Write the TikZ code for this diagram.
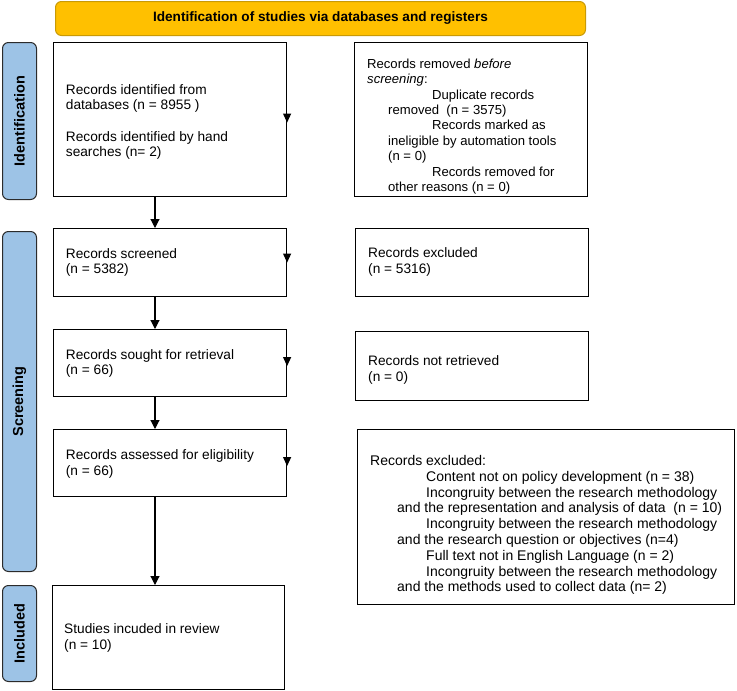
\documentclass[tikz,border=0pt]{standalone}
\usepackage{fontspec}
\setmainfont{Liberation Sans}
\usetikzlibrary{arrows.meta}
\definecolor{bannerfill}{HTML}{FFC000}
\definecolor{bannerdraw}{HTML}{C99A06}
\definecolor{phaseblue}{HTML}{9DC3E6}
\definecolor{phasedraw}{HTML}{2B2B2B}
\begin{document}
\begin{tikzpicture}[x=1pt,y=-1pt,
  box/.style={draw=black,line width=1.1pt,fill=white,inner sep=0pt,anchor=north west},
  phase/.style={draw=phasedraw,line width=1pt,fill=phaseblue,rounded corners=6pt,inner sep=0pt,anchor=north west},
  phasetxt/.style={rotate=90,font=\bfseries\fontsize{14.5}{16}\selectfont,inner sep=0pt},
  arr/.style={line width=1.1pt,-{Triangle[length=9pt,width=9pt]}},
  marker/.style={line width=1.1pt,-{Triangle[length=9pt,width=8pt]}},
  txt/.style={font=\fontsize{13.7}{15.6}\selectfont,align=left,inner sep=0pt,anchor=west},
]
\useasboundingbox (0,0) rectangle (737,691);

% banner
\node[draw=bannerdraw,line width=1pt,fill=bannerfill,rounded corners=6pt,
      minimum width=530pt,minimum height=34pt,anchor=north west,inner sep=0pt,
      font=\bfseries\fontsize{13.6}{15}\selectfont] (banner) at (55,1)
      {Identification of studies via databases and registers};

% phase labels
\node[phase,minimum width=34pt,minimum height=157pt] (lid) at (2,42) {};
\node[phasetxt] (lidt) at (lid.center) {Identification};
\node[phase,minimum width=34pt,minimum height=340pt] (lsc) at (2,231) {};
\node[phasetxt] (lsct) at (lsc.center) {Screening};
\node[phase,minimum width=34pt,minimum height=96pt] (lin) at (2,585) {};
\node[phasetxt] (lint) at (lin.center) {Included};

% left column boxes
\node[box,minimum width=233pt,minimum height=154pt] (b1) at (53,42) {};
\node[box,minimum width=233pt,minimum height=68pt] (b2) at (53,228) {};
\node[box,minimum width=233pt,minimum height=67pt] (b3) at (53,329) {};
\node[box,minimum width=233pt,minimum height=67pt] (b4) at (53,429) {};
\node[box,minimum width=232pt,minimum height=104pt] (b5) at (52,585) {};

% right column boxes
\node[box,minimum width=233pt,minimum height=154pt] (r1) at (354,42) {};
\node[box,minimum width=233pt,minimum height=68pt] (r2) at (355,228) {};
\node[box,minimum width=233pt,minimum height=69pt] (r3) at (355,331) {};
\node[box,minimum width=377pt,minimum height=175pt] (r4) at (357,429) {};

% texts left
\node[txt] (t1) at (65.7,122) {Records identified from\\databases (n = 8955 )\\[15.6pt]Records identified by hand\\searches (n= 2)};
\node[txt] (t2) at (65.7,262.5) {Records screened\\(n = 5382)};
\node[txt] (t3) at (65.7,363.5) {Records sought for retrieval\\(n = 66)};
\node[txt] (t4) at (65.7,464) {Records assessed for eligibility\\(n = 66)};
\node[txt] (t5) at (64,638) {Studies incuded in review\\(n = 10)};

% texts right
\node[txt,font=\fontsize{13.1}{15.4}\selectfont] (tr1) at (367,126.5) {Records removed \textit{before}\\
\textit{screening}:\\
\hspace*{65pt}Duplicate records\\
\hspace*{21pt}removed\ \ (n = 3575)\\
\hspace*{65pt}Records marked as\\
\hspace*{21pt}ineligible by automation tools\\
\hspace*{21pt}(n = 0)\\
\hspace*{65pt}Records removed for\\
\hspace*{21pt}other reasons (n = 0)};
\node[txt] (tr2) at (368,262) {Records excluded\\(n = 5316)};
\node[txt] (tr3) at (368,370) {Records not retrieved\\(n = 0)};
\node[txt,font=\fontsize{14}{15.8}\selectfont] (tr4) at (370,525) {Records excluded:\\
\hspace*{56pt}Content not on policy development (n = 38)\\
\hspace*{56pt}Incongruity between the research methodology\\
\hspace*{27pt}and the representation and analysis of data\ \ (n = 10)\\
\hspace*{56pt}Incongruity between the research methodology\\
\hspace*{27pt}and the research question or objectives (n=4)\\
\hspace*{56pt}Full text not in English Language (n = 2)\\
\hspace*{56pt}Incongruity between the research methodology\\
\hspace*{27pt}and the methods used to collect data (n= 2)};

% vertical arrows
\coordinate (ax) at (155,0);
\draw[arr] (b1.south -| ax) -- (b2.north -| ax);
\draw[arr] (b2.south -| ax) -- (b3.north -| ax);
\draw[arr] (b3.south -| ax) -- (b4.north -| ax);
\draw[arr] (b4.south -| ax) -- (b5.north -| ax);

% side arrow heads on right edges
\draw[marker] ([yshift=6pt]b1.east) -- ([yshift=-3pt]b1.east);
\draw[marker] ([yshift=9pt]b2.east) -- (b2.east);
\draw[marker] ([yshift=6pt]b3.east) -- ([yshift=-3pt]b3.east);
\draw[marker] ([yshift=6pt]b4.east) -- ([yshift=-3pt]b4.east);
\end{tikzpicture}
\end{document}
